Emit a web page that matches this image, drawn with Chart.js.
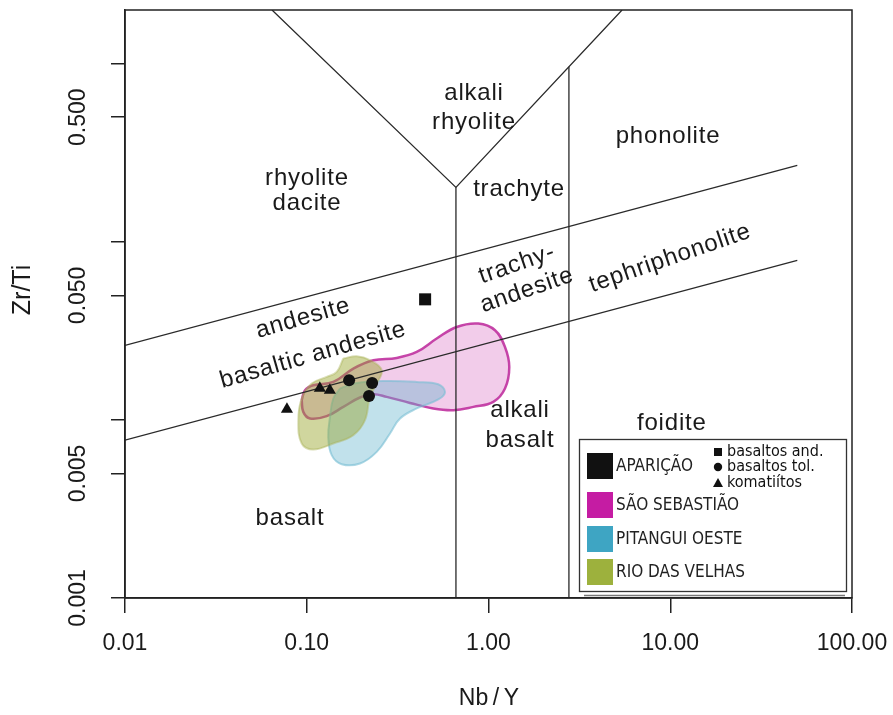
<!DOCTYPE html>
<html>
<head>
<meta charset="utf-8">
<script src="https://cdn.jsdelivr.net/npm/chart.js@4.4.1/dist/chart.umd.min.js"></script>
<style>
  html, body { margin: 0; padding: 0; background: #fff; }
  #wrap { width: 893px; height: 715px; }
</style>
</head>
<body>
<div id="wrap"><canvas id="grafico" width="893" height="715"></canvas></div>
<script>
// ejes
const xTicks = [0.01, 0.1, 1, 10, 100];
const xTickLabels = ['0.01', '0.10', '1.00', '10.00', '100.00'];
const yTicks = [0.001, 0.005, 0.01, 0.05, 0.1, 0.5, 1];
const yTickLabels = ['0.001', '0.005', '', '0.050', '', '0.500', ''];

// limites de campos (Nb/Y, Zr/Ti)
const limiteNbY = [[0.0644, 0.662, 5.43], [0.662, 0.662], [2.77, 2.77], [0.01, 50], [0.01, 50]];
const limiteZrTi = [[2, 0.202, 2], [0.202, 0.001], [0.96, 0.001], [0.0262, 0.268], [0.0077, 0.0787]];

// nombres de campos
const campoTexto = ['alkali', 'rhyolite', 'phonolite', 'rhyolite', 'dacite', 'trachyte', 'trachy-', 'andesite',
  'tephriphonolite', 'andesite', 'basaltic andesite', 'alkali', 'basalt', 'foidite', 'basalt'];
const campoNbY = [0.832, 0.832, 9.72, 0.1003, 0.1003, 1.472, 1.435, 1.628, 9.97, 0.0954, 0.1082, 1.49, 1.49, 10.2, 0.0809];
const campoZrTi = [0.68, 0.467, 0.39, 0.2268, 0.164, 0.1967, 0.0747, 0.0534, 0.0807, 0.0372, 0.02306, 0.01134, 0.0077, 0.00958, 0.00281];
const campoGiro = [0, 0, 0, 0, 0, 0, -19, -19, -19, -16, -16, 0, 0, 0, 0];

// muestras Aparição
const basaltosAndNbY = [0.448];
const basaltosAndZrTi = [0.0475];
const basaltosTolNbY = [0.171, 0.229, 0.220];
const basaltosTolZrTi = [0.0167, 0.0161, 0.0136];
const komatiitosNbY = [0.0778, 0.118, 0.134];
const komatiitosZrTi = [0.01148, 0.01507, 0.01468];

// campos de comparacion
const sebastiaoNbY = [0.0938, 0.0978, 0.1086, 0.140, 0.1804, 0.2324, 0.3126, 0.4027, 0.5188, 0.6683, 0.879, 1.086, 1.232, 1.301,
  1.232, 1.063, 0.825, 0.640, 0.497, 0.370, 0.2754, 0.2324, 0.1963, 0.1589, 0.1287, 0.1042, 0.0957];
const sebastiaoZrTi = [0.0129, 0.01468, 0.01565, 0.01633, 0.01942, 0.02163, 0.02227, 0.02406, 0.02861, 0.03323, 0.03472, 0.03185, 0.02566, 0.01983,
  0.0150, 0.01262, 0.01183, 0.01134, 0.01159, 0.01245, 0.01346, 0.01393, 0.01335, 0.01183, 0.01049, 0.01018, 0.01109];
const pitanguiNbY = [0.1524, 0.1883, 0.2754, 0.4027, 0.5293, 0.5763, 0.5293, 0.4027, 0.326, 0.2871, 0.2426, 0.1963, 0.1557, 0.1372, 0.1314, 0.1343, 0.140];
const pitanguiZrTi = [0.0150, 0.01612, 0.01654, 0.01633, 0.01585, 0.01436, 0.01302, 0.01159, 0.01018, 0.00839, 0.00661, 0.00569, 0.00564, 0.00634, 0.00803, 0.01039, 0.01318];
const velhasNbY = [0.1589, 0.1883, 0.2228, 0.2585, 0.2426, 0.2228, 0.2091, 0.1804, 0.140, 0.1086, 0.0938, 0.0899, 0.0938, 0.1065, 0.1287, 0.1462];
const velhasZrTi = [0.02211, 0.02277, 0.02163, 0.019, 0.016, 0.01346, 0.00996, 0.00821, 0.00737, 0.00682, 0.00737, 0.00996, 0.01318, 0.016, 0.01743, 0.01859];

// leyenda
const grupos = ['APARIÇÃO', 'SÃO SEBASTIÃO', 'PITANGUI OESTE', 'RIO DAS VELHAS'];
const coloresGrupo = ['#111111', '#c51ca3', '#3ea5c3', '#9db13d'];
const tiposMuestra = ['basaltos and.', 'basaltos tol.', 'komatiítos'];

const puntos = (xs, ys) => xs.map((v, i) => ({ x: v, y: ys[i] }));
const cerrado = (xs, ys) => {
    const p = puntos(xs, ys);
    p.push(p[0]);
    return p;
}

const campo = (xs, ys, relleno, borde, ancho, orden) => ({
    data: cerrado(xs, ys),
    showLine: true,
    fill: 'shape',
    tension: 0.4,
    backgroundColor: relleno,
    borderColor: borde,
    borderWidth: ancho,
    pointRadius: 0,
    order: orden
});

const muestras = (xs, ys, estilo, radio) => ({
    data: puntos(xs, ys),
    pointStyle: estilo,
    pointRadius: radio,
    backgroundColor: '#111',
    borderColor: '#111',
    borderWidth: 0,
    order: 0
});

const limites = limiteNbY.map((xs, i) => ({
    data: puntos(xs, limiteZrTi[i]),
    showLine: true,
    borderColor: '#2a2a2a',
    borderWidth: 1.3,
    pointRadius: 0,
    order: 1
}));

const texto = '#1a1a1a';
const fuente = '"Liberation Sans", Arial, sans-serif';
const fuenteLeyenda = '"DejaVu Sans Condensed", "DejaVu Sans", sans-serif';

const decoraciones = {
    id: 'decoraciones',
    afterDatasetsDraw(chart) {
        const { ctx, chartArea: a, scales: { x, y } } = chart;
        ctx.save();
        ctx.strokeStyle = '#222';
        ctx.lineWidth = 1.5;
        ctx.strokeRect(a.left, a.top, a.right - a.left, a.bottom - a.top);

        ctx.fillStyle = texto;
        ctx.textAlign = 'center';
        ctx.textBaseline = 'middle';
        ctx.font = '24px ' + fuente;
        if ('letterSpacing' in ctx) ctx.letterSpacing = '0.8px';
        campoTexto.forEach((t, i) => {
            ctx.save();
            ctx.translate(x.getPixelForValue(campoNbY[i]), y.getPixelForValue(campoZrTi[i]));
            ctx.rotate(campoGiro[i] * Math.PI / 180);
            ctx.fillText(t, 0, 0);
            ctx.restore();
        });
        if ('letterSpacing' in ctx) ctx.letterSpacing = '0px';

        // etiquetas del eje y, giradas
        ctx.font = '23px ' + fuente;
        y.ticks.forEach(t => {
            if (!t.label) return;
            ctx.save();
            ctx.translate(79, y.getPixelForValue(t.value));
            ctx.rotate(-Math.PI / 2);
            ctx.fillText(t.label, 0, 0);
            ctx.restore();
        });

        // titulos de ejes
        ctx.font = '25px ' + fuente;
        ctx.save();
        ctx.translate(23, 290);
        ctx.rotate(-Math.PI / 2);
        ctx.fillText('Zr/Ti', 0, 0);
        ctx.restore();
        ctx.font = '23px ' + fuente;
        ctx.fillText('Nb\u2009/\u2009Y', 489, 699);
        ctx.restore();
    },
    afterDraw(chart) {
        const { ctx } = chart;
        ctx.save();
        ctx.fillStyle = '#fff';
        ctx.fillRect(579, 439, 268, 153);
        ctx.strokeStyle = '#333';
        ctx.lineWidth = 1.3;
        ctx.strokeRect(579.5, 439.5, 267, 152);
        ctx.strokeStyle = '#777';
        ctx.beginPath();
        ctx.moveTo(584, 595.5);
        ctx.lineTo(845, 595.5);
        ctx.stroke();

        const tops = [453, 492, 526, 559];
        ctx.textAlign = 'left';
        ctx.textBaseline = 'middle';
        ctx.font = '17px ' + fuenteLeyenda;
        grupos.forEach((g, i) => {
            ctx.fillStyle = coloresGrupo[i];
            ctx.fillRect(587, tops[i], 26, 26);
            ctx.fillStyle = '#222';
            ctx.fillText(g, 616, tops[i] + 14);
        });

        const filas = [452, 467, 483];
        ctx.fillStyle = '#111';
        ctx.fillRect(714, filas[0] - 4, 8, 8);
        ctx.beginPath();
        ctx.arc(718, filas[1], 4.2, 0, Math.PI * 2);
        ctx.fill();
        ctx.beginPath();
        ctx.moveTo(718, filas[2] - 5);
        ctx.lineTo(723, filas[2] + 4);
        ctx.lineTo(713, filas[2] + 4);
        ctx.closePath();
        ctx.fill();
        ctx.font = '16px ' + fuenteLeyenda;
        tiposMuestra.forEach((t, i) => ctx.fillText(t, 727, filas[i]));
        ctx.restore();
    }
};

const ejeComun = {
    type: 'logarithmic',
    bounds: 'data',
    grid: { drawOnChartArea: false, drawTicks: true, color: '#222', lineWidth: 1.5 },
    border: { color: '#222', width: 1.5 }
};

const main = () => {
    new Chart(document.getElementById('grafico'), {
        type: 'scatter',
        data: {
            datasets: [
                campo(sebastiaoNbY, sebastiaoZrTi, 'rgba(220,120,200,0.38)', 'rgba(192,50,160,0.9)', 2.5, 4),
                campo(pitanguiNbY, pitanguiZrTi, 'rgba(100,180,205,0.4)', 'rgba(120,190,212,0.6)', 2, 3),
                campo(velhasNbY, velhasZrTi, 'rgba(150,165,40,0.45)', 'rgba(170,180,90,0.45)', 2, 2),
                ...limites,
                muestras(basaltosAndNbY, basaltosAndZrTi, 'rect', 8.5),
                muestras(basaltosTolNbY, basaltosTolZrTi, 'circle', 6),
                muestras(komatiitosNbY, komatiitosZrTi, 'triangle', 7)
            ]
        },
        options: {
            responsive: false,
            animation: false,
            devicePixelRatio: 1,
            events: [],
            layout: { padding: { top: 10, right: 41, left: 0, bottom: 0 } },
            plugins: { legend: { display: false }, tooltip: { enabled: false } },
            scales: {
                x: {
                    ...ejeComun,
                    min: 0.01,
                    max: 100,
                    grid: { ...ejeComun.grid, tickLength: 15 },
                    afterBuildTicks: s => { s.ticks = xTicks.map(v => ({ value: v })); },
                    afterFit: s => {
                        s.height = 117;
                        s.paddingLeft = 0;
                        s.paddingRight = 0;
                    },
                    ticks: {
                        autoSkip: false,
                        maxRotation: 0,
                        padding: 17,
                        color: texto,
                        font: { family: fuente, size: 23 },
                        callback: (v, i) => xTickLabels[i]
                    }
                },
                y: {
                    ...ejeComun,
                    min: 0.001,
                    max: 2,
                    grid: { ...ejeComun.grid, tickLength: 14 },
                    afterBuildTicks: s => { s.ticks = yTicks.map(v => ({ value: v })); },
                    afterFit: s => {
                        s.width = 125;
                        s.paddingTop = 0;
                        s.paddingBottom = 0;
                    },
                    ticks: {
                        display: false,
                        callback: (v, i) => yTickLabels[i]
                    }
                }
            }
        },
        plugins: [decoraciones]
    });
}

main();
</script>
</body>
</html>
